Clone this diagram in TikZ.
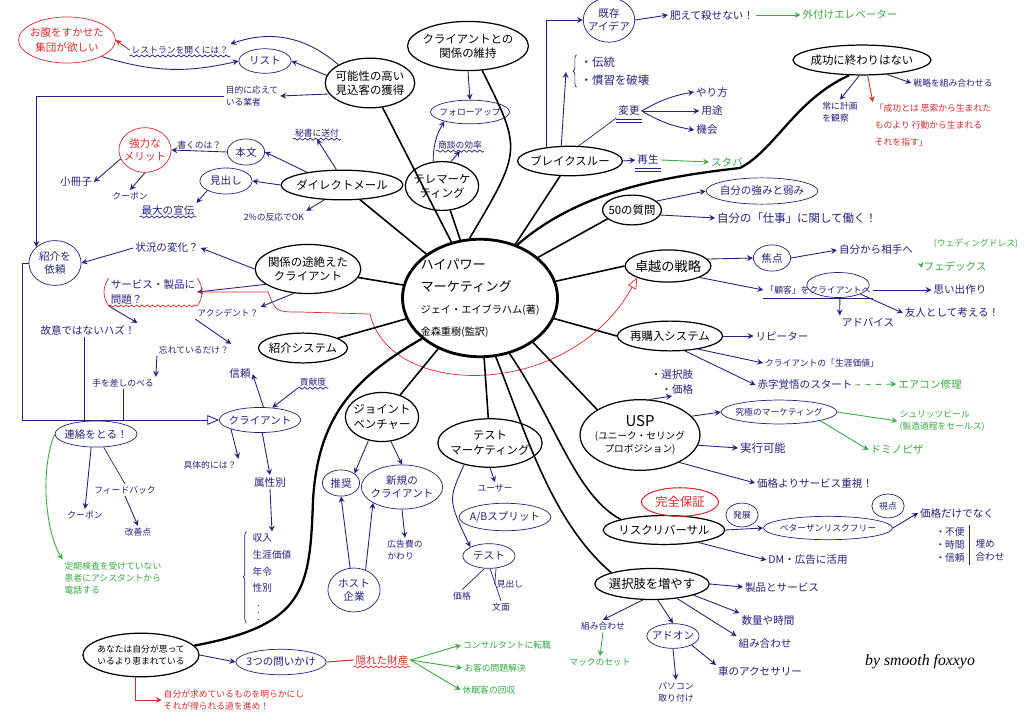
\documentclass[tikz,border=0pt]{standalone}
\usepackage{fontspec}
\setmainfont{Noto Sans CJK JP}
\newfontfamily\sigfont{Liberation Serif}
\usepackage{tikz}
\usetikzlibrary{shapes,arrows,positioning,calc,decorations.pathmorphing,decorations.pathreplacing}

\definecolor{pen}{RGB}{35,35,125}
\definecolor{redpen}{RGB}{215,45,45}
\definecolor{greenpen}{RGB}{55,170,65}

\begin{document}
\begin{tikzpicture}[
    x=0.02cm, y=-0.02cm,
    mainnode/.style={ellipse, draw, line width=0.7pt, align=center, inner xsep=-1.5pt, inner ysep=3pt, font=\fontsize{6.5}{8}\selectfont},
    subnode/.style={ellipse, draw=pen, text=pen, align=center, inner xsep=-1.5pt, inner ysep=2.5pt, font=\fontsize{6}{7.5}\selectfont},
    short/.style={inner xsep=1.5pt},
    rednode/.style={subnode, draw=redpen, text=redpen},
    note/.style={text=pen, align=left, inner sep=1pt, font=\fontsize{6}{8}\selectfont},
    fine/.style={font=\fontsize{5}{7}\selectfont},
    rnote/.style={note, text=redpen},
    gnote/.style={note, text=greenpen},
    branch/.style={line width=0.9pt},
    arrow/.style={->, >=stealth, draw=pen, line width=0.5pt},
    rarrow/.style={arrow, draw=redpen},
    garrow/.style={arrow, draw=greenpen},
    wavy/.style={draw=pen, line width=0.4pt, decorate, decoration={snake, amplitude=0.6pt, segment length=3pt}}
]
\useasboundingbox (0,0) rectangle (1024,723);
\fill[white] (0,0) rectangle (1024,723);

% Centre
\node[ellipse, draw, line width=1.6pt, minimum width=3.1cm, minimum height=2.35cm, align=left, inner xsep=-8pt, inner ysep=0pt, font=\fontsize{5.8}{12.5}\selectfont] (hp) at (480,298)
    {{\fontsize{7.5}{12.5}\selectfont ハイパワー}\\{\fontsize{7.5}{12.5}\selectfont マーケティング}\\ジェイ・エイブラハム(著)\\金森重樹(監訳)};

% Prospects (top left)
\node[mainnode] (prospect) at (370,83) {可能性の高い\\見込客の獲得};
\node[subnode, short] (list) at (265,61) {リスト};
\node[rednode, font=\fontsize{6}{8}\selectfont] (hungry) at (67,40) {お腹をすかせた\\集団が欲しい};
\node[note, fine] (restaurant) at (180,50) {レストランを開くには？};
\node[note, fine] (vendor) at (252,96) {目的に応えて\\いる業者};
\draw[arrow] (prospect.150) to[bend right=30] (restaurant.north east);
\draw[rarrow] (restaurant.west) -- (hungry.east);
\draw[arrow] (hungry.south east) to[bend right=15] (list.west);
\draw[arrow] (prospect.170) -- (list.east);
\draw[arrow] (prospect.195) -- (vendor.east);
\draw[wavy] (restaurant.south west) -- (restaurant.south east);

% Direct mail
\node[mainnode] (dm) at (342,185) {ダイレクトメール};
\node[subnode, short] (body) at (246,152) {本文};
\node[rednode] (merit) at (145,150) {強力な\\メリット};
\node[note] (booklet) at (76,182) {小冊子};
\node[note, fine] (coupon1) at (130,196) {クーポン};
\node[subnode, short] (headline) at (226,181) {見出し};
\node[note] (ad) at (168,210) {最大の宣伝};
\node[note, fine] (secretary) at (317,133) {秘書に送付};
\node[note, fine] (response) at (274,217) {2\%の反応でOK};
\draw[arrow] (dm.160) -- (body.east);
\draw[arrow] (body.west) -- node[note, fine, above] {書くのは？} (merit.east);
\draw[arrow] (merit.200) -- (booklet.east);
\draw[arrow] (merit.south) -- (coupon1.north);
\draw[arrow] (dm.west) -- (headline.east);
\draw[arrow] (headline.south west) -- (ad.north east);
\draw[arrow] (dm.110) -- (secretary.south);
\draw[arrow] (dm.220) -- (response.north east);
\draw[wavy] (secretary.south west) -- (secretary.south east);
\draw[wavy] (ad.south west) -- (ad.south east);

% Telemarketing and client relations
\node[mainnode] (tele) at (442,186) {テレマーケ\\ティング};
\node[subnode, fine] (follow) at (470,112) {フォローアップ};
\node[mainnode] (keep) at (468,46) {クライアントとの\\関係の維持};
\node[note, fine] (efficiency) at (460,145) {商談の効率};
\draw[arrow] (keep.south) -- (follow.north);
\draw[arrow] (tele.110) to[bend left=15] (follow.200);
\draw[arrow] (tele.70) -- (efficiency.south);
\draw[wavy] (efficiency.south west) -- (efficiency.south east);

% Breakthrough
\node[mainnode] (breakthrough) at (570,161) {ブレイクスルー};
\node[subnode] (existing) at (609,20) {既存\\アイデア};
\node[note] (nokill) at (712,15) {肥えて殺せない！};
\node[gnote] (elevator) at (850,15) {外付けエレベーター};
\node[note, font=\fontsize{6.5}{10}\selectfont] (tradition) at (615,71) {・伝統\\・慣習を破壊};
\node[note] (change) at (629,111) {変更};
\node[note] (how) at (712,92) {やり方};
\node[note] (use) at (712,111) {用途};
\node[note] (chance) at (707,130) {機会};
\node[note] (revive) at (648,160) {再生};
\node[gnote] (starbucks) at (727,162) {スタバ};
\coordinate (tbrace) at (566,72);
\draw[arrow] (breakthrough.150) |- (existing.west);
\draw[arrow] (existing.east) -- (nokill.west);
\draw[garrow] (nokill.east) -- (elevator.west);
\draw[pen, decorate, decoration={brace, amplitude=2pt}] ($(tradition.south west)+(-2,0)$) -- ($(tradition.north west)+(-2,0)$);
\draw[arrow] (breakthrough.120) -- (tbrace);
\draw[pen] (breakthrough.60) -- (change.south west);
\draw[arrow] (change.east) to[bend left=10] (how.west);
\draw[arrow] (change.east) -- (use.west);
\draw[arrow] (change.east) to[bend right=10] (chance.west);
\draw[arrow] (breakthrough.east) -- (revive.west);
\draw[garrow] (revive.east) -- (starbucks.west);
\foreach \n in {change, revive} {
  \draw[pen] ($(\n.south west)+(0,1)$) -- ($(\n.south east)+(0,1)$);
  \draw[pen] ($(\n.south west)+(0,4)$) -- ($(\n.south east)+(0,4)$);
}

% Success
\node[mainnode] (success) at (862,60) {成功に終わりはない};
\node[note, fine] (watch) at (840,112) {常に計画\\を観察};
\node[rnote, font=\fontsize{5}{9.5}\selectfont] (quote) at (933,125) {「成功とは 思索から生まれた\\ものより 行動から生まれる\\それを指す」};
\node[note, fine] (combine) at (953,83) {戦略を組み合わせる};
\draw[arrow] (success.260) -- (watch.north);
\draw[rarrow] (success.290) -- (quote.north west);
\draw[arrow] (success.330) -- (combine.west);

% 50 questions
\node[mainnode] (q50) at (632,210) {50の質問};
\node[subnode] (strength) at (762,191) {自分の強みと弱み};
\node[note, font=\fontsize{6.5}{8}\selectfont] (work) at (797,218) {自分の「仕事」に関して働く！};
\draw[arrow] (q50.20) -- (strength.west);
\draw[arrow] (q50.-10) -- (work.west);

% Strategy of excellence
\node[mainnode, font=\fontsize{7.5}{8}\selectfont] (excel) at (668,266) {卓越の戦略};
\node[subnode, short] (focus) at (772,258) {焦点};
\node[note] (toothers) at (876,250) {自分から相手へ};
\node[gnote, fine] (wedding) at (976,244) {(ウェディングドレス)};
\node[gnote] (fedex) at (955,266) {フェデックス};
\node[note, fine] (toclient) at (818,290) {「顧客」をクライアントへ};
\node[draw=pen, ellipse, minimum width=1.25cm, minimum height=0.5cm] (ring) at (838,285) {};
\node[note] (advice) at (868,322) {アドバイス};
\node[note] (memory) at (960,290) {思い出作り};
\node[note] (friend) at (952,313) {友人として考える！};
\coordinate (fx) at (922,268);
\draw[arrow] (excel.10) -- (focus.west);
\draw[arrow] (focus.east) -- (toothers.west);
\draw[garrow] (fedex.west) -- (fx);
\draw[arrow] (excel.-20) -- (toclient.west);
\draw[pen] ($(toclient.south west)+(0,2)$) -- ($(toclient.south east)+(0,2)$);
\draw[arrow] ($(toclient.south west)!0.7!(toclient.south east)+(0,2)$) -- (advice.north west);
\draw[arrow] (toclient.east) -- (memory.west);
\draw[arrow] (ring.south east) -- (friend.west);

% Repurchase system
\node[mainnode] (rebuy) at (670,336) {再購入システム};
\node[note] (repeater) at (782,336) {リピーター};
\node[note, fine] (ltv) at (822,363) {クライアントの「生涯価値」};
\node[note] (loss) at (805,385) {赤字覚悟のスタート};
\node[gnote] (aircon) at (930,384) {エアコン修理};
\draw[arrow] (rebuy.east) -- (repeater.west);
\draw[arrow] (rebuy.-25) -- (ltv.west);
\draw[arrow] (rebuy.-45) -- (loss.west);
\draw[garrow, dashed] (loss.east) -- (aircon.west);

% USP
\node[mainnode, font=\fontsize{5.5}{7.5}\selectfont] (usp) at (640,435) {{\fontsize{8.5}{10}\selectfont USP}\\(ユニーク・セリング\\プロポジション)};
\node[note] (options) at (672,382) {・選択肢\\\quad・価格};
\node[subnode, fine] (ultimate) at (779,412) {究極のマーケティング};
\node[gnote, fine] (schlitz) at (942,421) {シュリッツビール\\(製造過程をセールス)};
\node[gnote] (domino) at (897,450) {ドミノピザ};
\node[note, font=\fontsize{6.5}{8}\selectfont] (feasible) at (763,448) {実行可能};
\node[note] (service) at (815,483) {価格よりサービス重視！};
\draw[arrow] (usp.75) -- (options.south);
\draw[arrow] (usp.20) -- (ultimate.west);
\draw[garrow] (ultimate.east) -- (schlitz.west);
\draw[garrow] (ultimate.south east) -- (domino.west);
\draw[arrow] (usp.-10) -- (feasible.west);
\draw[arrow] (usp.-35) -- (service.west);

% Risk reversal
\node[mainnode] (risk) at (664,530) {リスクリバーサル};
\node[rednode, short, line width=0.6pt, font=\fontsize{7}{8}\selectfont] (guarantee) at (680,502) {完全保証};
\node[subnode, fine] (better) at (828,528) {ベターザンリスクフリー};
\node[subnode, short, fine] (develop) at (742,515) {発展};
\node[subnode, short, fine] (view) at (888,506) {視点};
\node[note] (notprice) at (957,513) {価格だけでなく};
\node[note, font=\fontsize{5.5}{7.5}\selectfont] (items) at (950,545) {・不便\\・時間\\・信頼};
\node[note, font=\fontsize{5.5}{7.5}\selectfont] (makeup) at (990,550) {埋め\\合わせ};
\node[note] (dmuse) at (808,560) {DM・広告に活用};
\draw[arrow] (risk.east) -- (better.west);
\draw[arrow] (better.east) -- (notprice.west);
\draw[pen] ($(items.north east)+(3,0)$) -- ($(items.south east)+(3,0)$);
\draw[arrow] (risk.-20) -- (dmuse.west);

% More choices
\node[mainnode, font=\fontsize{7}{8}\selectfont] (choice) at (652,584) {選択肢を増やす};
\node[note, fine] (combo1) at (603,626) {組み合わせ};
\node[gnote, fine] (mac) at (600,662) {マックのセット};
\node[subnode] (addon) at (673,636) {アドオン};
\node[note, fine] (pc) at (676,692) {パソコン\\取り付け};
\node[note] (car) at (760,672) {車のアクセサリー};
\node[note] (prodserv) at (782,587) {製品とサービス};
\node[note] (qty) at (768,620) {数量や時間};
\node[note] (combo2) at (765,643) {組み合わせ};
\draw[arrow] (choice.240) -- (combo1.north);
\draw[garrow] (combo1.south) -- (mac.north);
\draw[arrow] (choice.290) -- (addon.north);
\draw[arrow] (addon.south) -- (pc.north);
\draw[arrow] (addon.south east) -- (car.north west);
\draw[arrow] (choice.east) -- (prodserv.west);
\draw[arrow] (choice.-15) -- (qty.north west);
\draw[arrow] (choice.-30) -- (combo2.north west);

% Test marketing
\node[mainnode] (testmkt) at (490,443) {テスト\\マーケティング};
\node[note, fine] (user) at (495,488) {ユーザー};
\node[subnode] (ab) at (505,517) {A/Bスプリット};
\node[subnode, short] (test) at (489,556) {テスト};
\node[note, fine] (price) at (462,596) {価格};
\node[note, fine] (head2) at (510,584) {見出し};
\node[note, fine] (copy) at (501,607) {文面};
\draw[arrow] (testmkt.south) -- (user.north);
\draw[arrow] (testmkt.220) .. controls (448,500) .. (test.north west);
\draw[pen] (test.250) -- (price.north);
\draw[pen] (test.275) -- (copy.north);
\draw[pen] (test.300) -- (head2.west);

% Joint venture
\node[mainnode] (jv) at (382,417) {ジョイント\\ベンチャー};
\node[subnode, short] (endorse) at (341,483) {推奨};
\node[subnode] (newcl) at (402,487) {新規の\\クライアント};
\node[note, fine] (adcost) at (405,550) {広告費の\\かわり};
\node[subnode, short] (host) at (354,590) {ホスト\\企業};
\draw[arrow] (jv.240) -- (endorse.north east);
\draw[arrow] (jv.290) -- (newcl.north);
\draw[arrow] (host.100) -- (endorse.south);
\draw[arrow] (host.60) -- (newcl.south west);
\draw[arrow] (newcl.south) -- (adcost.north);

% Referral system
\node[mainnode] (intro) at (303,348) {紹介システム};
\node[subnode] (client) at (260,420) {クライアント};
\node[note] (trust) at (240,374) {信頼};
\node[note, fine] (contrib) at (313,382) {貢献度};
\node[note, fine] (concrete) at (210,465) {具体的には？};
\node[note] (attr) at (270,482) {属性別};
\node[note, font=\fontsize{5.5}{9.5}\selectfont] (attrlist) at (272,577) {収入\\生涯価値\\年令\\性別\\\ \ $\vdots$};
\draw[arrow] (client.75) -- (trust.east);
\draw[arrow] (contrib.south west) -- (client.45);
\draw[wavy] (contrib.south west) -- (contrib.south east);
\draw[arrow] (client.south west) -- (concrete.north east);
\draw[arrow] (client.-80) -- (attr.north);
\draw[arrow] (attr.south) -- (attrlist.north);
\draw[pen, decorate, decoration={brace, amplitude=2pt}] ($(attrlist.south west)+(-4,0)$) -- ($(attrlist.north west)+(-4,0)$);

% Lost clients
\node[mainnode] (lost) at (308,269) {関係の途絶えた\\クライアント};
\node[subnode, short] (referral) at (55,263) {紹介を\\依頼};
\node[note] (change2) at (167,248) {状況の変化？};
\node[note] (problem) at (153,292) {サービス・製品に\\問題？};
\node[note, fine] (accident) at (228,313) {アクシデント？};
\node[note, fine] (forgot) at (194,350) {忘れているだけ？};
\node[note, fine] (reach) at (123,383) {手を差しのべる};
\node[note] (notintent) at (88,330) {故意ではないハズ！};
\node[subnode] (contact) at (96,434) {連絡をとる！};
\node[note, fine] (coupon2) at (85,515) {クーポン};
\node[note, fine] (feedback) at (125,490) {フィードバック};
\node[note, fine] (improve) at (138,532) {改善点};
\node[gnote, fine] (checkup) at (113,578) {定期検査を受けていない\\患者にアシスタントから\\電話する};
\coordinate (leftrail) at (22,0);
\draw[arrow] (vendor.west) -| (referral.north west);
\draw[->, >=open triangle 45, draw=pen, line width=0.5pt] (referral.west) -- (referral.west -| leftrail) |- (client.west);
\draw[arrow] (lost.west) -- (change2.east);
\draw[arrow] (change2.west) -- (referral.east);
\draw[arrow] (lost.200) -- (problem.east);
\draw[redpen] (problem.north west) to[bend right=35] (problem.south west);
\draw[redpen] (problem.north east) to[bend left=35] (problem.south east);
\draw[wavy, draw=redpen] (problem.south west) -- (problem.south east);
\draw[arrow] (lost.240) -- (accident.north east);
\draw[arrow] (accident.south west) -- (forgot.north east);
\draw[arrow] (forgot.south west) -- (reach.north east);
\draw[arrow] (problem.south west) -- (notintent.north east);
\draw[pen] (notintent.240) -- (notintent.240 |- contact.north);
\draw[pen] (reach.south) -- (reach.south |- contact.north);
\draw[arrow] (contact.250) -- (coupon2.north);
\draw[pen] (contact.300) -- (feedback.north);
\draw[arrow] (feedback.south) -- (improve.north);
\draw[garrow] (contact.west) .. controls (40,470) and (45,530) .. (checkup.north west);
\draw[rarrow, >=open triangle 45, line width=0.4pt] (problem.east) -- (268,292) .. controls (276,312) .. (300,312) -- (370,314) .. controls (390,400) and (570,400) .. (excel.south west);

% Blessed
\node[mainnode, fine] (blessed) at (141,655) {あなたは自分が思って\\いるより恵まれている};
\node[subnode] (three) at (281,662) {3つの問いかけ};
\node[rnote] (hidden) at (382,660) {隠れた財産};
\node[gnote, fine] (consult) at (507,645) {コンサルタントに転職};
\node[gnote, fine] (solve) at (495,668) {お客の問題解決};
\node[gnote, fine] (dormant) at (489,690) {休眠客の回収};
\node[rnote, fine] (goal) at (234,700) {自分が求めているものを明らかにし\\それが得られる道を進め！};
\draw[arrow] (blessed.east) -- (three.west);
\draw[redpen, line width=0.6pt] (three.east) -- (hidden.west);
\draw[wavy, draw=redpen] (hidden.south west) -- (hidden.south east);
\foreach \t in {consult, solve, dormant}
  \draw[garrow] (hidden.east) -- (\t.west);
\draw[rarrow] (blessed.255) |- (goal.west);

% Branches from the centre
\draw[branch] (hp) -- (prospect);
\draw[branch] (hp) -- (dm);
\draw[branch] (hp) -- (tele);
\draw[branch] (hp.100) .. controls (522,150) .. (keep.-60);
\draw[branch] (hp) -- (breakthrough);
\draw[branch, line width=1.3pt] (hp.55) .. controls (575,195) and (650,178) .. (740,168) .. controls (775,150) and (795,100) .. (success.230);
\draw[branch] (hp.35) -- (q50.200);
\draw[branch] (hp) -- (excel.west);
\draw[branch] (hp) -- (rebuy.west);
\draw[branch] (hp.-40) -- (usp.north west);
\draw[branch] (hp.-62) .. controls (555,420) and (575,495) .. (risk.north west);
\draw[branch] (hp.-75) .. controls (525,430) and (550,520) .. (choice.north west);
\draw[branch] (hp) -- (testmkt);
\draw[branch] (hp) -- (jv);
\draw[branch] (hp) -- (intro);
\draw[branch] (hp) -- (lost);
\draw[branch, line width=1.3pt] (hp.215) .. controls (350,380) and (318,420) .. (313,500) .. controls (310,590) and (305,625) .. (blessed.10);

% Signature
\node[font=\sigfont\itshape\fontsize{9}{10}\selectfont] (sig) at (920,662) {by smooth foxxyo};

\end{tikzpicture}
\end{document}
